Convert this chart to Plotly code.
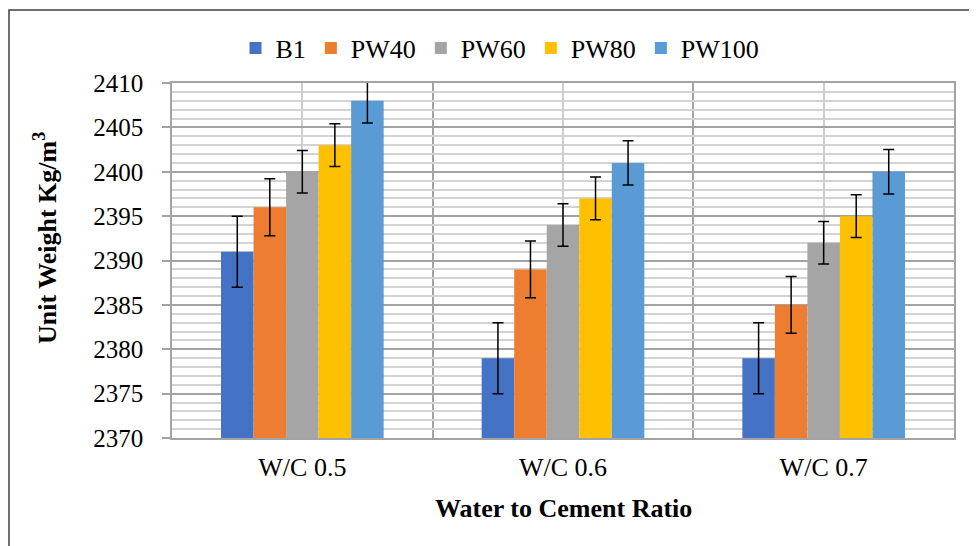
import plotly.graph_objects as go

categories = ["W/C 0.5", "W/C 0.6", "W/C 0.7"]
series_names = ["B1", "PW40", "PW60", "PW80", "PW100"]
b1 = [2391, 2379, 2379]
pw40 = [2396, 2389, 2385]
pw60 = [2400, 2394, 2392]
pw80 = [2403, 2397, 2395]
pw100 = [2408, 2401, 2400]
err_b1 = [4, 4, 4]
err_pw40 = [3.2, 3.2, 3.2]
err_pw60 = [2.4, 2.4, 2.4]
err_pw80 = [2.4, 2.4, 2.4]
err_pw100 = [2.5, 2.5, 2.5]
colors = ["#4472C4", "#ED7D31", "#A5A5A5", "#FFC000", "#5B9BD5"]

values = [b1, pw40, pw60, pw80, pw100]
errors = [err_b1, err_pw40, err_pw60, err_pw80, err_pw100]
xpos = list(range(len(categories)))

FONT = "Liberation Serif"
OFF = 8  # page offset of the figure
W, H = 977 - OFF, 546 - OFF
L, R, T, B = 172 - OFF, 23, 83 - OFF, 108
pw = W - L - R
ph = H - T - B

fig = go.Figure()
for name, vals, errs, col in zip(series_names, values, errors, colors):
    fig.add_trace(go.Bar(
        x=xpos, y=vals, name=name,
        marker=dict(color=col, line=dict(width=0)),
        error_y=dict(type="data", array=errs, visible=True,
                     color="black", thickness=1.5, width=5.5),
    ))

def px_to_paper_x(px):
    return (px - OFF - L) / pw

def px_to_paper_y(py):
    return (H - B - (py - OFF)) / ph

fig.update_layout(
    width=W, height=H,
    margin=dict(l=L, r=R, t=T, b=B, autoexpand=False),
    paper_bgcolor="white", plot_bgcolor="white",
    barmode="group", bargap=0.376, bargroupgap=0,
    font=dict(family=FONT, size=25, color="black"),
    showlegend=True,
    legend=dict(orientation="h", x=px_to_paper_x(500), xanchor="center",
                y=px_to_paper_y(48), yanchor="middle",
                font=dict(family=FONT, size=26, color="black"),
                itemwidth=30, traceorder="normal", bgcolor="rgba(0,0,0,0)"),
    xaxis=dict(
        range=[-0.5, 2.5], tickvals=xpos, ticktext=categories,
        showgrid=True, gridcolor="#cdcdcd", gridwidth=1.5,
        minor=dict(tickvals=[-0.5, 0.5, 1.5, 2.5], showgrid=True,
                   gridcolor="#a3a3a3", gridwidth=1.5),
        showline=True, mirror=True, linecolor="#a3a3a3", linewidth=1.5,
        ticks="", zeroline=False,
        tickfont=dict(family=FONT, size=26, color="black"),
        ticklabelstandoff=5,
    ),
    yaxis=dict(
        range=[2370, 2410], dtick=5, tick0=2370,
        showgrid=True, gridcolor="#a3a3a3", gridwidth=1.5,
        minor=dict(dtick=1, showgrid=True, gridcolor="#d3d3d3", gridwidth=1.5),
        showline=True, mirror=True, linecolor="#a3a3a3", linewidth=1.5,
        ticks="outside", ticklen=8, tickcolor="#a3a3a3", tickwidth=1.5,
        zeroline=False,
        tickfont=dict(family=FONT, size=25, color="black"),
        ticklabelstandoff=14,
    ),
    annotations=[
        dict(text="<b>Unit Weight Kg/m<sup>3</sup></b>", textangle=-90,
             xref="paper", yref="paper",
             x=px_to_paper_x(45), y=px_to_paper_y(238),
             xanchor="center", yanchor="middle", showarrow=False,
             font=dict(family=FONT, size=26, color="black")),
        dict(text="<b>Water to Cement Ratio</b>",
             xref="paper", yref="paper",
             x=px_to_paper_x(563), y=px_to_paper_y(508),
             xanchor="center", yanchor="middle", showarrow=False,
             font=dict(family=FONT, size=26, color="black")),
    ],
    shapes=[
        dict(type="rect", xref="paper", yref="paper",
             x0=px_to_paper_x(9), x1=px_to_paper_x(990),
             y0=px_to_paper_y(560), y1=px_to_paper_y(10),
             line=dict(color="#404040", width=1.5), layer="below"),
    ],
)

fig.write_html("out.html")
